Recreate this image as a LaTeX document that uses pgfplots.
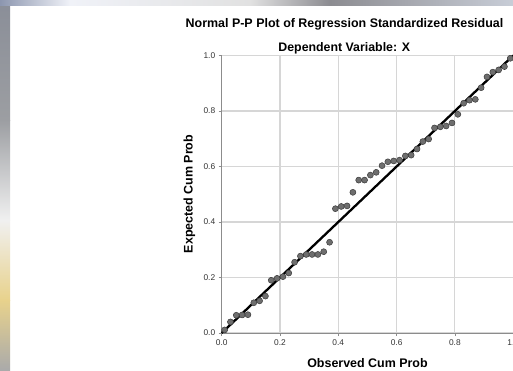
\documentclass[border=0pt]{standalone}
\usepackage{pgfplots}
\pgfplotsset{compat=1.18}
\usepackage{fontspec}
\setmainfont{Liberation Sans}
\definecolor{gridc}{HTML}{D6D6D6}
\definecolor{axc}{HTML}{8C8C8C}
\definecolor{tickc}{HTML}{333333}
\definecolor{ptfill}{HTML}{6E6E6E}
\definecolor{ptedge}{HTML}{3A3A3A}
\pgfplotstableread{
x y
0.01 0.011
0.03 0.040
0.05 0.064
0.07 0.065
0.09 0.066
0.11 0.109
0.13 0.116
0.15 0.133
0.17 0.190
0.19 0.197
0.21 0.203
0.23 0.216
0.25 0.255
0.27 0.277
0.29 0.283
0.31 0.283
0.33 0.283
0.35 0.293
0.37 0.327
0.39 0.448
0.41 0.456
0.43 0.458
0.45 0.507
0.47 0.551
0.49 0.551
0.51 0.569
0.53 0.579
0.55 0.603
0.57 0.617
0.59 0.620
0.61 0.623
0.63 0.638
0.65 0.641
0.67 0.663
0.69 0.690
0.71 0.699
0.73 0.739
0.75 0.743
0.77 0.746
0.79 0.757
0.81 0.788
0.83 0.828
0.85 0.839
0.87 0.842
0.89 0.884
0.91 0.923
0.93 0.940
0.95 0.948
0.97 0.960
0.99 0.990
}\pts
\begin{document}
\begin{tikzpicture}[x=1bp,y=1bp]
\useasboundingbox (0,0) rectangle (513,370);
\fill[white] (0,0) rectangle (513,370);
% screenshot edge strips
\shade[top color={rgb,255:red,138;green,142;blue,152}, bottom color={rgb,255:red,156;green,158;blue,162}] (0,250) rectangle (10,370);
\shade[top color={rgb,255:red,156;green,158;blue,162}, bottom color={rgb,255:red,240;green,240;blue,240}] (0,150) rectangle (10,250);
\shade[top color={rgb,255:red,240;green,240;blue,240}, bottom color={rgb,255:red,232;green,210;blue,140}] (0,70) rectangle (10,150);
\shade[top color={rgb,255:red,232;green,210;blue,140}, bottom color={rgb,255:red,170;green,170;blue,170}] (0,0) rectangle (10,70);
\shade[left color={rgb,255:red,140;green,150;blue,175}, right color={rgb,255:red,240;green,242;blue,248}] (0,364) rectangle (70,370);
\shade[left color={rgb,255:red,240;green,242;blue,248}, right color={rgb,255:red,225;green,225;blue,225}] (70,364) rectangle (250,370);
\shade[left color={rgb,255:red,225;green,225;blue,225}, right color={rgb,255:red,140;green,140;blue,145}] (250,364) rectangle (330,370);
\shade[left color={rgb,255:red,140;green,140;blue,145}, right color={rgb,255:red,200;green,205;blue,215}] (330,364) rectangle (513,370);
\begin{scope}
\clip (0,0) rectangle (513,370);
\begin{axis}[
  at={(221.7bp,37bp)}, anchor=south west,
  scale only axis, width=291.5bp, height=277.5bp,
  xmin=0, xmax=1, ymin=0, ymax=1,
  axis lines*=left,
  axis line style={draw=axc, line width=0.8bp},
  xtick={0,0.2,0.4,0.6,0.8,1}, ytick={0,0.2,0.4,0.6,0.8,1},
  xticklabels={0.0,0.2,0.4,0.6,0.8,1.0},
  yticklabels={0.0,0.2,0.4,0.6,0.8,1.0},
  grid=major,
  major grid style={draw=gridc, line width=1.1bp},
  tick align=outside, major tick length=3bp,
  tick style={draw=axc, line width=0.6bp},
  ticklabel style={font=\fontsize{8.4}{10}\selectfont, text=tickc},
  /pgf/number format/assume math mode=true,
  clip=false,
]
\addplot[only marks, mark=*, mark size=3bp, mark options={fill=ptfill, draw=ptedge, line width=0.5bp}] table[x=x,y=y] {\pts};
\addplot[black, line width=2.3bp] coordinates {(0,0) (1,1)};
\end{axis}
\end{scope}
\node[anchor=base, font=\bfseries\fontsize{12.5}{15}\selectfont, inner sep=0] at (344.5,342.3) {Normal P-P Plot of Regression Standardized Residual};
\node[anchor=base, font=\bfseries\fontsize{12.4}{15}\selectfont, inner sep=0] at (344.2,318.3) {Dependent Variable: X};
\node[anchor=base, font=\bfseries\fontsize{12.5}{15}\selectfont, inner sep=0] at (367.5,2.5) {Observed Cum Prob};
\node[anchor=base, rotate=90, font=\bfseries\fontsize{12.5}{15}\selectfont, inner sep=0] at (192.7,176) {Expected Cum Prob};
\end{tikzpicture}
\end{document}
